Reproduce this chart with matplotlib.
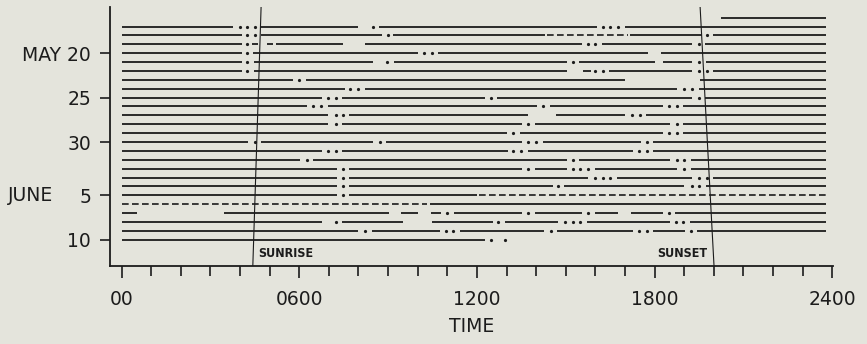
import matplotlib
matplotlib.use('Agg')
import matplotlib.pyplot as plt
from matplotlib.transforms import blended_transform_factory

# one row per day, May 16 (row 0) .. June 10 (row 25), times in hours
solid_bouts = [
    [(20.25, 23.78)],
    [(0, 3.77), (4.71, 7.99), (8.7, 16.05), (17.0, 23.78)],
    [(0, 4.05), (4.71, 8.78), (9.18, 14.3), (17.17, 19.6), (19.97, 23.78)],
    [(0, 4.05), (4.39, 4.62), (4.9, 5.1), (5.2, 7.49), (8.22, 15.54), (16.22, 19.26), (19.7, 23.78)],
    [(0, 4.05), (4.45, 10.0), (10.7, 17.79), (18.22, 23.78)],
    [(0, 4.05), (4.47, 8.5), (9.2, 15.03), (15.45, 18.02), (18.3, 19.26), (19.74, 23.78)],
    [(0, 4.05), (4.47, 15.03), (15.6, 15.85), (16.47, 19.26), (19.97, 23.78)],
    [(0, 5.8), (6.23, 17.0), (19.54, 23.78)],
    [(0, 7.54), (8.22, 18.75), (19.51, 23.78)],
    [(0, 6.76), (7.43, 12.27), (12.69, 19.26), (19.7, 23.78)],
    [(0, 6.25), (6.96, 14.02), (14.47, 18.28), (18.97, 23.78)],
    [(0, 6.98), (7.69, 13.74), (14.66, 17.0), (17.7, 23.78)],
    [(0, 6.98), (7.45, 13.51), (13.96, 18.52), (18.97, 23.78)],
    [(0, 13.0), (13.46, 18.29), (18.97, 23.78)],
    [(0, 4.28), (4.71, 8.5), (8.94, 13.51), (14.24, 17.55), (17.96, 23.78)],
    [(0, 6.76), (7.45, 13.06), (13.74, 17.28), (17.96, 23.78)],
    [(0, 6.02), (6.47, 15.03), (15.46, 18.52), (19.23, 23.78)],
    [(0, 7.26), (7.69, 13.51), (13.96, 15.03), (15.99, 18.77), (19.23, 23.78)],
    [(0, 7.26), (7.69, 15.76), (16.72, 19.26), (19.97, 23.78)],
    [(0, 7.26), (7.69, 14.58), (14.95, 19.0), (19.74, 23.78)],
    [(0, 7.26), (7.69, 11.99)],
    [(10.42, 23.78)],
    [(0, 0.53), (3.46, 9.04), (9.43, 10.02), (10.44, 10.79), (11.23, 13.51), (13.96, 15.54), (15.99, 16.78), (17.2, 18.28), (18.69, 23.78)],
    [(0, 6.76), (7.45, 9.51), (10.47, 12.53), (12.95, 14.75), (15.71, 18.52), (19.2, 23.78)],
    [(0, 7.99), (8.45, 10.75), (11.43, 14.28), (14.7, 17.27), (17.96, 19.03), (19.45, 23.78)],
    [(0, 12.27)],
]

dot_times = [
    [],
    [4.0, 4.24, 4.5, 8.5, 16.25, 16.5, 16.76],
    [4.24, 4.5, 9.0, 19.76],
    [4.24, 15.76, 15.99, 19.5],
    [4.24, 10.22, 10.49],
    [4.24, 8.97, 15.26, 19.5],
    [4.24, 15.99, 16.25, 19.5, 19.76],
    [5.99],
    [7.71, 7.99, 19.0, 19.26],
    [6.98, 7.23, 12.48, 19.5],
    [6.47, 6.73, 14.22, 18.49, 18.75],
    [7.23, 7.49, 17.24, 17.5],
    [7.23, 13.74, 18.75],
    [13.23, 18.48, 18.75],
    [4.5, 8.73, 13.74, 14.0, 17.75],
    [6.98, 7.23, 13.23, 13.48, 17.49, 17.74],
    [6.25, 15.24, 18.75, 19.0],
    [7.49, 13.74, 15.24, 15.48, 15.74, 19.0],
    [7.49, 15.99, 16.25, 16.5, 19.5, 19.76],
    [7.49, 14.75, 19.26, 19.5],
    [7.49],
    [],
    [10.98, 13.74, 15.74, 18.49],
    [7.23, 12.72, 14.98, 15.24, 15.48, 18.74, 18.97],
    [8.22, 10.96, 11.2, 14.49, 17.49, 17.74, 19.23],
    [12.48, 12.95],
]

# (row, start, end) of the dashed stretches
dash_bouts = [(2, 14.36, 17.1), (20, 12.08, 23.78), (21, 0, 10.3)]

day_rows = [4, 9, 14, 20, 25]
day_labels = ['MAY 20', '25', '30', '5', '10']
hour_ticks = [0, 6, 12, 18, 24]
hour_labels = ['00', '0600', '1200', '1800', '2400']

sun_rows = [-1.26, 27.93]
sunrise = [4.71, 4.43]
sunset = [19.54, 20.01]

ink = '#1c1c1c'
bg = '#e4e4dc'

fig = plt.figure(figsize=(8.67, 3.44), dpi=100, facecolor=bg)
ax = fig.add_axes([110/867, 1 - 265.7/344, 723/867, 259.2/344])
ax.set_facecolor(bg)

for r in range(len(solid_bouts)):
    for a, b in solid_bouts[r]:
        ax.plot([a, b], [r, r], color=ink, lw=1.3, solid_capstyle='butt')
    if dot_times[r]:
        ax.plot(dot_times[r], [r]*len(dot_times[r]), 'o', color=ink, ms=2.3, mew=0)

for r, a, b in dash_bouts:
    ax.plot([a, b], [r, r], color=ink, lw=1.2, ls=(0, (4, 2)), dash_capstyle='butt')

ax.plot(sunrise, sun_rows, color=ink, lw=0.8)
ax.plot(sunset, sun_rows, color=ink, lw=0.8)
ax.text(sunrise[1] + 0.18, 26.5, 'SUNRISE', fontsize=9, fontweight='bold', fontstretch='condensed',
        color=ink, va='center', ha='left')
ax.text(sunset[1] - 0.23, 26.5, 'SUNSET', fontsize=9, fontweight='bold', fontstretch='condensed',
        color=ink, va='center', ha='right')

ax.set_xlim(-0.395, 24.03)
ax.set_ylim(27.93, -1.26)

for s in ['top', 'right']:
    ax.spines[s].set_visible(False)
for s in ['left', 'bottom']:
    ax.spines[s].set_linewidth(1.3)
    ax.spines[s].set_color(ink)

ax.set_xticks(hour_ticks)
ax.set_xticklabels(hour_labels)
ax.set_xticks(range(25), minor=True)
ax.tick_params(axis='x', which='major', direction='out', length=8.5, width=1.2, pad=9,
               colors=ink, labelsize=13.5)
ax.tick_params(axis='x', which='minor', direction='out', length=7, width=1.2, colors=ink)
ax.set_yticks(day_rows)
ax.set_yticklabels(day_labels)
ax.tick_params(axis='y', direction='out', length=7, width=1.2, pad=6.5, colors=ink, labelsize=13.5)

tr = blended_transform_factory(ax.transAxes, ax.transData)
ax.text(-0.0784, 20, 'JUNE', transform=tr, ha='right', va='center', fontsize=13.5, color=ink)
ax.set_xlabel('TIME', fontsize=13.5, color=ink, labelpad=6)

fig.savefig('out.png', dpi=100, facecolor=bg)
